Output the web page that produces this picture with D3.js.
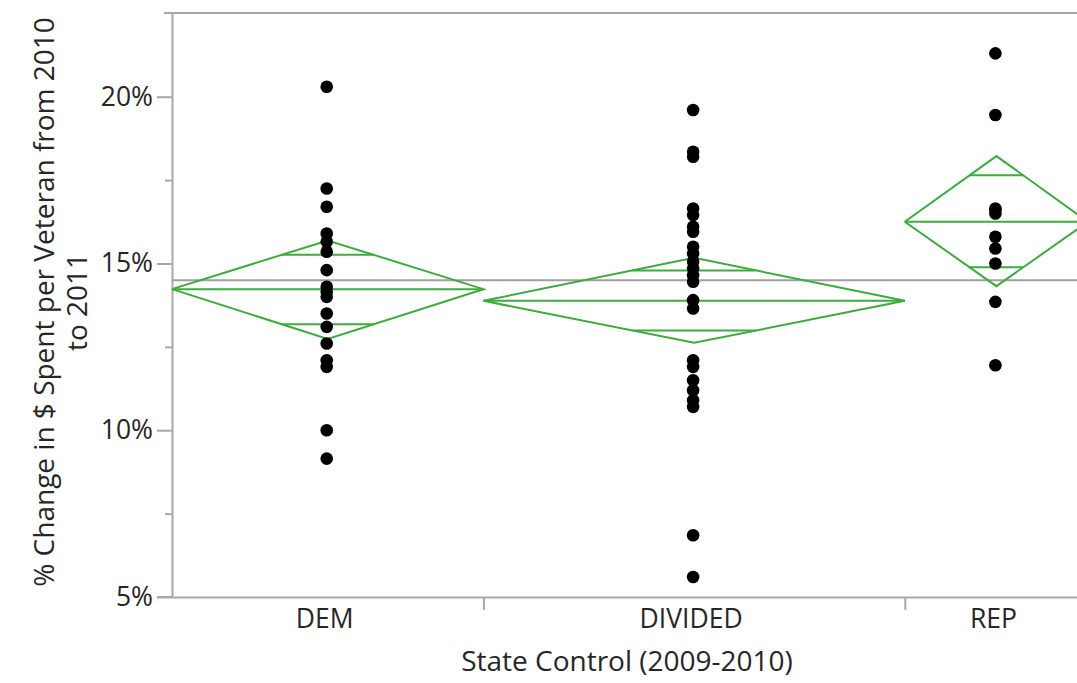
<!DOCTYPE html>
<html>
<head>
<meta charset="utf-8">
<script src="https://cdn.jsdelivr.net/npm/d3@7"></script>
<style>
  html, body { margin: 0; padding: 0; background: #fff; overflow: hidden; }
  svg { display: block; font-family: "Open Sans", "Noto Sans", sans-serif; }
</style>
</head>
<body>
<svg id="chart" width="1077" height="683"></svg>
<script>
// ---- data ----
const categories = ["DEM", "DIVIDED", "REP"];
const counts = [17, 23, 10];
const demValues = [20.3, 17.25, 16.7, 15.9, 15.65, 15.35, 14.8, 14.3, 14.15, 14.0, 13.5, 13.1, 12.6, 12.1, 11.9, 10.0, 9.15];
const dividedValues = [19.6, 18.35, 18.2, 16.65, 16.45, 16.1, 15.95, 15.5, 15.3, 15.05, 14.85, 14.65, 14.45, 13.9, 13.65, 12.1, 11.9, 11.5, 11.2, 10.9, 10.7, 6.85, 5.6];
const repValues = [21.3, 19.45, 16.65, 16.6, 16.5, 15.8, 15.45, 15.0, 13.85, 11.95];
const groupMeans = [14.23, 13.88, 16.25];
const ciLower = [12.74, 12.62, 14.32];
const ciUpper = [15.69, 15.17, 18.22];
const grandMean = 14.5;
const yTicks = [5, 10, 15, 20];
const yMinorTicks = [7.5, 12.5, 17.5];
const xTitle = "State Control (2009-2010)";
const yTitleLines = ["% Change in $ Spent per Veteran from 2010", "to 2011"];

const seriesValues = [demValues, dividedValues, repValues];

// ---- layout ----
const svg = d3.select("#chart");
const plotLeft = 172, plotTop = 13, plotBottom = 597;
const total = d3.sum(counts);
const cum = [0];
counts.forEach((c, i) => cum.push(cum[i] + c));

const x = d3.scaleLinear().domain([0, total]).range([plotLeft, 1088]);
const y = d3.scaleLinear().domain([5, 22.51]).range([plotBottom, plotTop]);

const axisColor = "#a8a8a8";
const green = "#3dab3d";
const textColor = "#262626";

// frame top line
svg.append("line")
  .attr("x1", plotLeft - 8).attr("x2", 1077)
  .attr("y1", y(22.51)).attr("y2", y(22.51))
  .attr("stroke", axisColor).attr("stroke-width", 2);

// y axis
const yAxis = d3.axisLeft(y).tickValues(yTicks).tickSize(15).tickSizeOuter(0)
  .tickPadding(4).tickFormat(d => d + "%");
const gy = svg.append("g").attr("transform", `translate(${plotLeft},0)`).call(yAxis);
gy.select(".domain").attr("stroke", axisColor).attr("stroke-width", 2);
gy.selectAll(".tick line").attr("stroke", axisColor).attr("stroke-width", 2);
gy.selectAll(".tick text").attr("font-size", 26.5).attr("fill", textColor)
  .attr("font-family", "Open Sans, sans-serif");

const yMinor = d3.axisLeft(y).tickValues(yMinorTicks).tickSize(7).tickSizeOuter(0).tickFormat("");
const gym = svg.append("g").attr("transform", `translate(${plotLeft},0)`).call(yMinor);
gym.select(".domain").remove();
gym.selectAll(".tick line").attr("stroke", axisColor).attr("stroke-width", 2);

// x axis
const xAxis = d3.axisBottom(x).tickValues(cum.slice(1, -1)).tickSize(13).tickSizeOuter(0).tickFormat("");
const gx = svg.append("g").attr("transform", `translate(0,${plotBottom})`).call(xAxis);
gx.select(".domain").attr("stroke", axisColor).attr("stroke-width", 2);
gx.selectAll(".tick line").attr("stroke", axisColor).attr("stroke-width", 2);
svg.append("line").attr("x1", plotLeft - 15).attr("x2", plotLeft)
  .attr("y1", plotBottom).attr("y2", plotBottom)
  .attr("stroke", axisColor).attr("stroke-width", 2);

// category labels
svg.append("g").selectAll("text").data(categories).join("text")
  .attr("x", (d, i) => x((cum[i] + cum[i + 1]) / 2) - 3)
  .attr("y", 628)
  .attr("text-anchor", "middle")
  .attr("font-size", 26.5).attr("fill", textColor)
  .text(d => d);

// axis titles
svg.append("text").attr("x", x(total / 2) - 3).attr("y", 671)
  .attr("text-anchor", "middle").attr("font-size", 28).attr("fill", textColor)
  .text(xTitle);

const yt = svg.append("g").attr("transform", "translate(0,302) rotate(-90)");
yt.selectAll("text").data(yTitleLines).join("text")
  .attr("x", 0).attr("y", (d, i) => 54 + i * 33)
  .attr("text-anchor", "middle").attr("font-size", 28).attr("fill", textColor)
  .text(d => d);

// grand mean line
svg.append("line").attr("x1", plotLeft).attr("x2", 1077)
  .attr("y1", y(grandMean)).attr("y2", y(grandMean))
  .attr("stroke", "#a0a0a0").attr("stroke-width", 2);

// means diamonds
const dg = svg.append("g").attr("fill", "none").attr("stroke", green).attr("stroke-width", 2);
categories.forEach((c, i) => {
  const x0 = x(cum[i]), x1 = x(cum[i + 1]), xc = (x0 + x1) / 2;
  const m = groupMeans[i], lo = ciLower[i], hi = ciUpper[i];
  dg.append("path").attr("d", d3.line()([[x0, y(m)], [xc, y(hi)], [x1, y(m)], [xc, y(lo)], [x0, y(m)]]));
  dg.append("line").attr("x1", x0).attr("x2", x1).attr("y1", y(m)).attr("y2", y(m));
  const halfW = (x1 - x0) / 2;
  [m + (hi - m) / Math.SQRT2, m - (m - lo) / Math.SQRT2].forEach(v => {
    const frac = Math.abs(v - m) / (v > m ? hi - m : m - lo);
    const w = halfW * (1 - frac);
    dg.append("line").attr("x1", xc - w).attr("x2", xc + w).attr("y1", y(v)).attr("y2", y(v));
  });
});

// points
categories.forEach((c, i) => {
  const xc = x((cum[i] + cum[i + 1]) / 2);
  svg.append("g").selectAll("circle").data(seriesValues[i]).join("circle")
    .attr("cx", xc - 1).attr("cy", d => y(d)).attr("r", 6.3).attr("fill", "#000");
});
</script>
</body>
</html>
